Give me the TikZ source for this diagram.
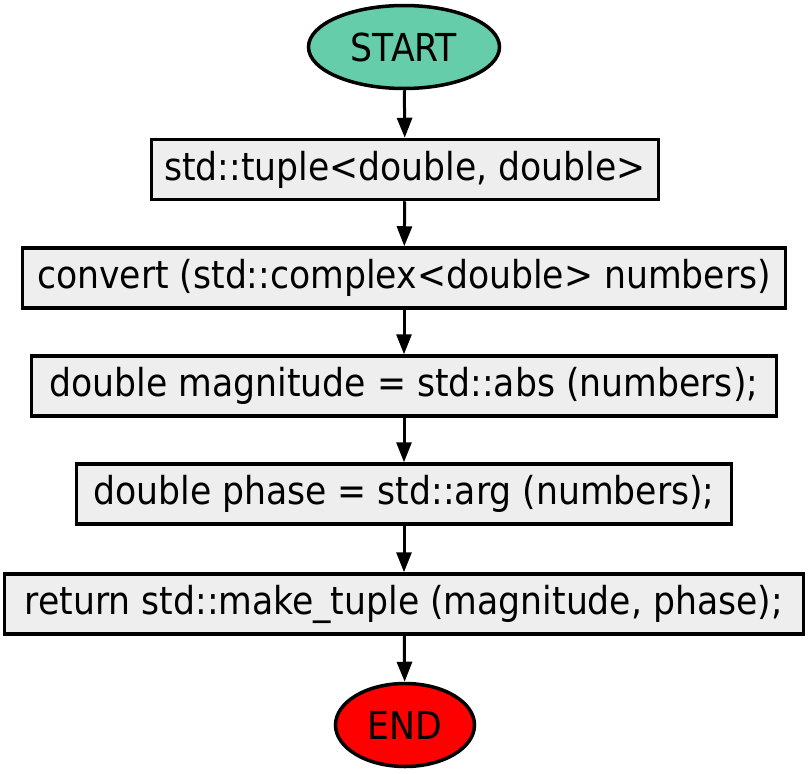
\documentclass[tikz,border=0pt]{standalone}
\usepackage{fontspec}
\setmainfont{DejaVu Sans Condensed}
\usetikzlibrary{shapes.geometric,arrows.meta}
\definecolor{startc}{HTML}{66CDAA}
\definecolor{boxc}{HTML}{EEEEEE}
\tikzset{
  term/.style={ellipse, draw=black, line width=3.5pt, minimum width=191pt, minimum height=83pt, inner sep=0pt, font=\fontsize{38.5}{40}\selectfont},
  proc/.style={rectangle, draw=black, line width=3.5pt, fill=boxc, minimum height=60pt, inner sep=0pt, font=\fontsize{38.5}{40}\selectfont},
  flow/.style={line width=3pt, -{Triangle[length=20pt,width=15pt]}},
}
\begin{document}
\begin{tikzpicture}[x=1pt,y=-1pt]
\useasboundingbox (0,0) rectangle (809,774);
\node[term, fill=startc] (s) at (404,47) {START};
\node[proc, minimum width=507pt] (b1) at (405,169.5) {std::tuple<double, double>};
\node[proc, minimum width=763pt] (b2) at (404,278) {convert (std::complex<double> numbers)};
\node[proc, minimum width=745pt] (b3) at (404,386) {double magnitude = std::abs (numbers);};
\node[proc, minimum width=655pt] (b4) at (404,494) {double phase = std::arg (numbers);};
\node[proc, minimum width=799pt] (b5) at (404,604) {return std::make\_tuple (magnitude, phase);};
\node[term, fill=red, minimum width=139pt] (e) at (405,725) {END};
\draw[flow] (s) -- (b1);
\draw[flow] (b1) -- (b2);
\draw[flow] (b2) -- (b3);
\draw[flow] (b3) -- (b4);
\draw[flow] (b4) -- (b5);
\draw[flow] (b5) -- (e);
\end{tikzpicture}
\end{document}
